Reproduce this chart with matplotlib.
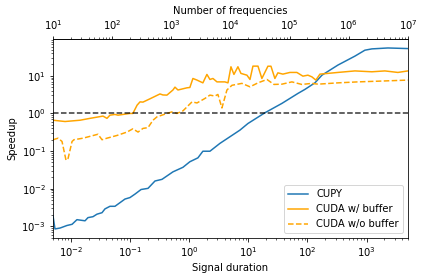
import numpy as np
import matplotlib
matplotlib.use('Agg')
import matplotlib.pyplot as plt

# signal duration -> speedup
cupy_dur = [0.005, 0.0054, 0.0066, 0.0086, 0.0105, 0.0127, 0.0174, 0.0195, 0.0237, 0.0277,
	0.0337, 0.0378, 0.0459, 0.0558, 0.0824, 0.100, 0.122, 0.154, 0.202, 0.265,
	0.348, 0.533, 0.787, 1.03, 1.41, 1.71, 2.25, 3.32, 4.90, 7.23,
	9.88, 19.1, 37.1, 69.1, 90.7, 134, 176, 328, 636, 938,
	1231, 2296, 5000]
cupy_speed = [0.0019, 0.00085, 0.0009, 0.00105, 0.00113, 0.0015, 0.0014, 0.0017, 0.0018, 0.0021,
	0.0023, 0.0029, 0.0034, 0.0034, 0.0053, 0.0058, 0.0072, 0.0095, 0.0102, 0.016,
	0.0177, 0.028, 0.037, 0.052, 0.066, 0.099, 0.099, 0.16, 0.24, 0.36,
	0.54, 1.04, 1.85, 3.4, 4.35, 6.5, 10.4, 19.3, 33.4, 48,
	52, 55, 53]

buf_dur = [0.005, 0.0080, 0.0143, 0.0211, 0.0350, 0.0409, 0.0459, 0.0558, 0.0628, 0.100,
	0.112, 0.132, 0.148, 0.166, 0.218, 0.322, 0.361, 0.422, 0.533, 0.577,
	0.648, 0.920, 1.03, 1.16, 1.36, 1.71, 2.00, 2.25, 2.53, 2.96,
	4.03, 4.54, 5.10, 5.73, 6.69, 7.52, 9.50, 10.7, 12.0, 14.6,
	17.0, 21.5, 24.2, 28.2, 31.7, 38.5, 50.6, 66.4, 83.9, 102,
	119, 139, 163, 222, 328, 636, 1231, 2041, 3388, 5000]
buf_speed = [0.66, 0.61, 0.66, 0.74, 0.85, 0.74, 0.90, 0.94, 0.90, 1.0,
	1.0, 1.66, 2.03, 2.0, 2.45, 3.3, 3.1, 3.07, 4.2, 5.0,
	4.2, 4.8, 4.9, 8.5, 7.7, 6.5, 10.9, 8.0, 8.5, 6.9,
	6.9, 6.5, 17.4, 10.9, 17.4, 11.6, 10.4, 8.0, 18.1, 18.1,
	8.5, 18.0, 18.0, 8.5, 12.0, 11.1, 12.3, 12.3, 9.8, 10.4,
	9.4, 7.7, 11.1, 11.6, 12.3, 13.5, 12.8, 13.5, 12.3, 13.5]

nobuf_dur = [0.005, 0.0061, 0.0071, 0.0083, 0.0090, 0.0105, 0.0113, 0.0161, 0.0288, 0.0337,
	0.0409, 0.0604, 0.0891, 0.112, 0.137, 0.166, 0.202, 0.245, 0.286, 0.391,
	0.513, 0.624, 0.787, 1.12, 1.36, 1.85, 2.25, 2.73, 3.07, 3.59,
	4.36, 5.30, 7.82, 10.7, 14.6, 20.7, 27.2, 37.1, 54.7, 80.7,
	119, 151, 328, 714, 1554, 5000]
nobuf_speed = [0.2, 0.22, 0.18, 0.057, 0.064, 0.18, 0.2, 0.22, 0.28, 0.2,
	0.22, 0.26, 0.32, 0.39, 0.32, 0.4, 0.42, 0.66, 0.81, 0.96,
	1.1, 1.0, 1.17, 2.03, 1.9, 2.5, 3.07, 2.9, 3.2, 1.4,
	4.2, 5.6, 6.3, 5.1, 6.5, 8.0, 5.9, 6.0, 6.9, 5.9,
	6.3, 6.0, 6.5, 6.9, 7.2, 7.7]

FREQ_PER_SEC = 2000

def main():
	fig, ax = plt.subplots(figsize=(424/72, 280/72), dpi=72)
	fig.subplots_adjust(left=0.125, right=0.962, top=0.861, bottom=0.15)

	ax.plot(cupy_dur, cupy_speed, label='CUPY')
	ax.plot(buf_dur, buf_speed, color='orange', label='CUDA w/ buffer')
	ax.plot(nobuf_dur, nobuf_speed, color='orange', ls='--', label='CUDA w/o buffer')
	ax.axhline(1, color='k', ls='--', alpha=0.8)

	ax.set_xscale('log')
	ax.set_yscale('log')
	ax.set_xlim(0.005, 5000)
	ax.set_xlabel('Signal duration')
	ax.set_ylabel('Speedup')
	ax.legend(loc='lower right')

	top = ax.secondary_xaxis('top', functions=(lambda x: x*FREQ_PER_SEC, lambda x: x/FREQ_PER_SEC))
	top.set_xlabel('Number of frequencies')

	fig.savefig('out.png', dpi=72)

if __name__ == "__main__":
	main()
